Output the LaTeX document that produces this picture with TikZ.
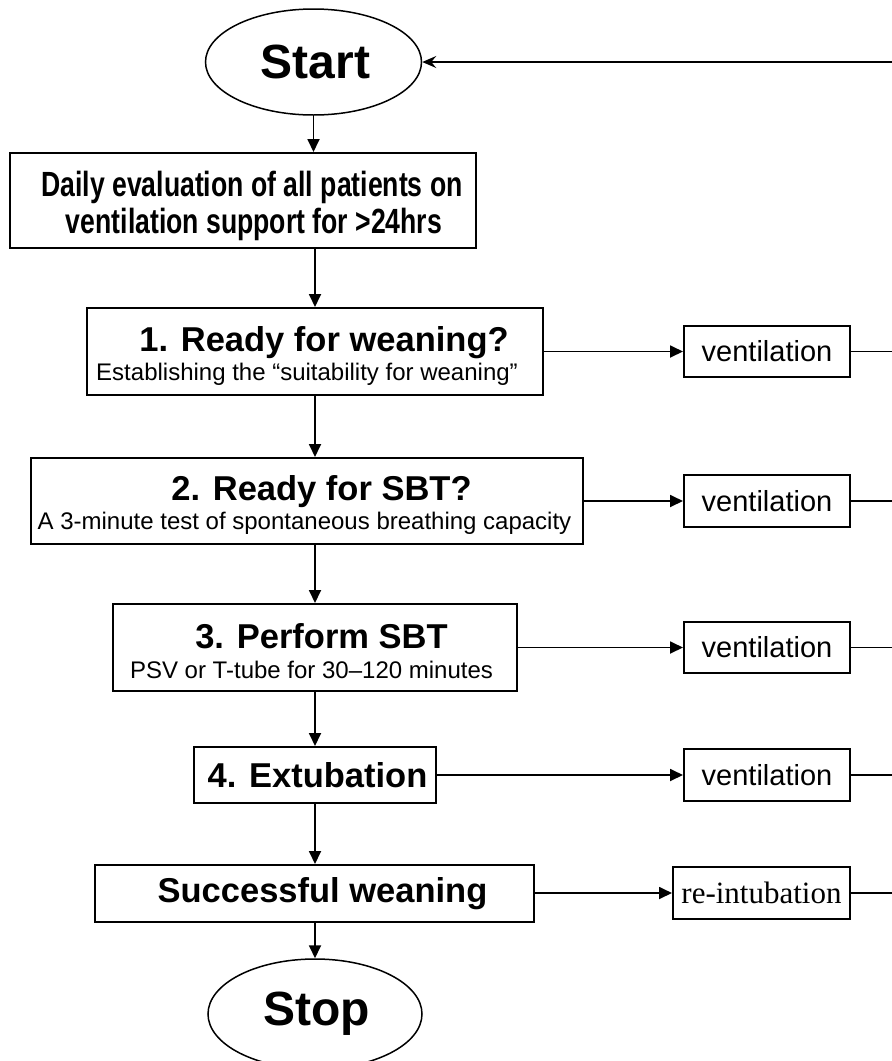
\documentclass[tikz,border=0pt]{standalone}
\usepackage{fontspec}
\setmainfont{Liberation Sans}
\newfontfamily\narrowfont[FakeStretch=0.76]{Liberation Sans}
\newfontfamily\timesfont{Liberation Serif}
\usetikzlibrary{shapes.geometric,arrows.meta}
\newcommand{\ttlf}{\fontsize{34.5}{29}\selectfont\bfseries}
\newcommand{\subf}{\fontsize{24}{29}\selectfont\mdseries}
\newcommand{\twoline}[3][29pt]{\vbox{\kern8pt\baselineskip=#1\lineskiplimit=-100pt\lineskip=0pt\halign{\hfil##\hfil\cr\ttlf #2\cr\subf #3\cr}}}
\newcommand{\dailytext}[2]{\vbox{\kern10pt\baselineskip=37pt\lineskiplimit=-100pt\lineskip=0pt\halign{\hfil##\hfil\cr #1\cr #2\cr}}}
\begin{document}
\begin{tikzpicture}[x=1pt,y=-1pt,
  box/.style={draw,line width=2pt,rectangle,inner sep=0pt},
  oval/.style={draw,line width=1.5pt,ellipse,inner sep=0pt,font=\fontsize{48}{50}\selectfont\bfseries},
  vbox/.style={draw,line width=2pt,rectangle,inner sep=0pt,minimum width=166pt,font=\fontsize{29}{32}\selectfont},
  arr/.style={line width=1.8pt,-{Triangle[length=13pt,width=12pt]}},
  ln/.style={line width=1.8pt}]
\useasboundingbox (0,0) rectangle (892,1061);
\coordinate (edge) at (892,0);
% main column
\node[oval,minimum width=216pt,minimum height=106pt] (start) at (313.5,62) {\hspace*{4pt}Start};
\node[box,minimum width=466pt,minimum height=95pt,font=\narrowfont\bfseries\fontsize{35}{37}\selectfont] (daily) at (243,200.5)
  {\dailytext{\hspace*{18pt}Daily evaluation of all patients on}{\hspace*{22pt}ventilation support for >24hrs}};
\node[box,minimum width=456pt,minimum height=87pt] (b1) at (315,351.5)
  {\twoline{\hspace*{18pt}1. Ready for weaning?}{Establishing the “suitability for weaning”\hspace*{16pt}}};
\node[box,minimum width=552pt,minimum height=86pt] (b2) at (307,501)
  {\twoline{\hspace*{29pt}2. Ready for SBT?}{A 3-minute test of spontaneous breathing capacity\hspace*{5pt}}};
\node[box,minimum width=404pt,minimum height=87pt] (b3) at (315,647.5)
  {\twoline[30pt]{\hspace*{13pt}3. Perform SBT}{PSV or T-tube for 30–120 minutes\hspace*{7pt}}};
\node[box,minimum width=242pt,minimum height=56pt,font=\ttlf] (b4) at (315,775) {\hspace*{5pt}4. Extubation};
\node[box,minimum width=439pt,minimum height=57pt,font=\ttlf] (b5) at (314.5,893.5) {\hspace*{16pt}Successful weaning};
\node[oval,minimum width=214pt,minimum height=110pt] (stop) at (315,1014) {\hspace*{3pt}Stop};
% side boxes
\node[vbox,minimum height=51pt] (v1) at (767,351.5) {ventilation};
\node[vbox,minimum height=52pt] (v2) at (767,501) {ventilation};
\node[vbox,minimum height=51pt] (v3) at (767,647.5) {ventilation};
\node[vbox,minimum height=52pt] (v4) at (767,775) {ventilation};
\node[vbox,minimum width=177pt,minimum height=52pt,font=\timesfont\fontsize{31}{33}\selectfont] (v5) at (761.5,893) {re-intubation};
% vertical connectors
\draw[arr] (start.south) -- (start.south |- daily.north);
\draw[arr] (b1.north |- daily.south) -- (b1.north);
\draw[arr] (b1.south) -- (b1.south |- b2.north);
\draw[arr] (b3.north |- b2.south) -- (b3.north);
\draw[arr] (b3.south) -- (b4.north);
\draw[arr] (b4.south) -- (b4.south |- b5.north);
\draw[arr] (stop.north |- b5.south) -- (stop.north);
% horizontal connectors
\draw[arr] (b1.east |- v1) -- (v1.west);
\draw[arr] (b2.east |- v2) -- (v2.west);
\draw[arr] (b3.east |- v3) -- (v3.west);
\draw[arr] (b4.east |- v4) -- (v4.west);
\draw[arr] (b5.east |- v5) -- (v5.west);
\draw[ln] (v1.east) -- (v1.east -| edge);
\draw[ln] (v2.east) -- (v2.east -| edge);
\draw[ln] (v3.east) -- (v3.east -| edge);
\draw[ln] (v4.east) -- (v4.east -| edge);
\draw[ln] (v5.east) -- (v5.east -| edge);
\draw[line width=1.5pt,-{Stealth[length=14pt,width=12pt,inset=5pt]}] (edge |- start.east) -- (start.east);
\end{tikzpicture}
\end{document}
